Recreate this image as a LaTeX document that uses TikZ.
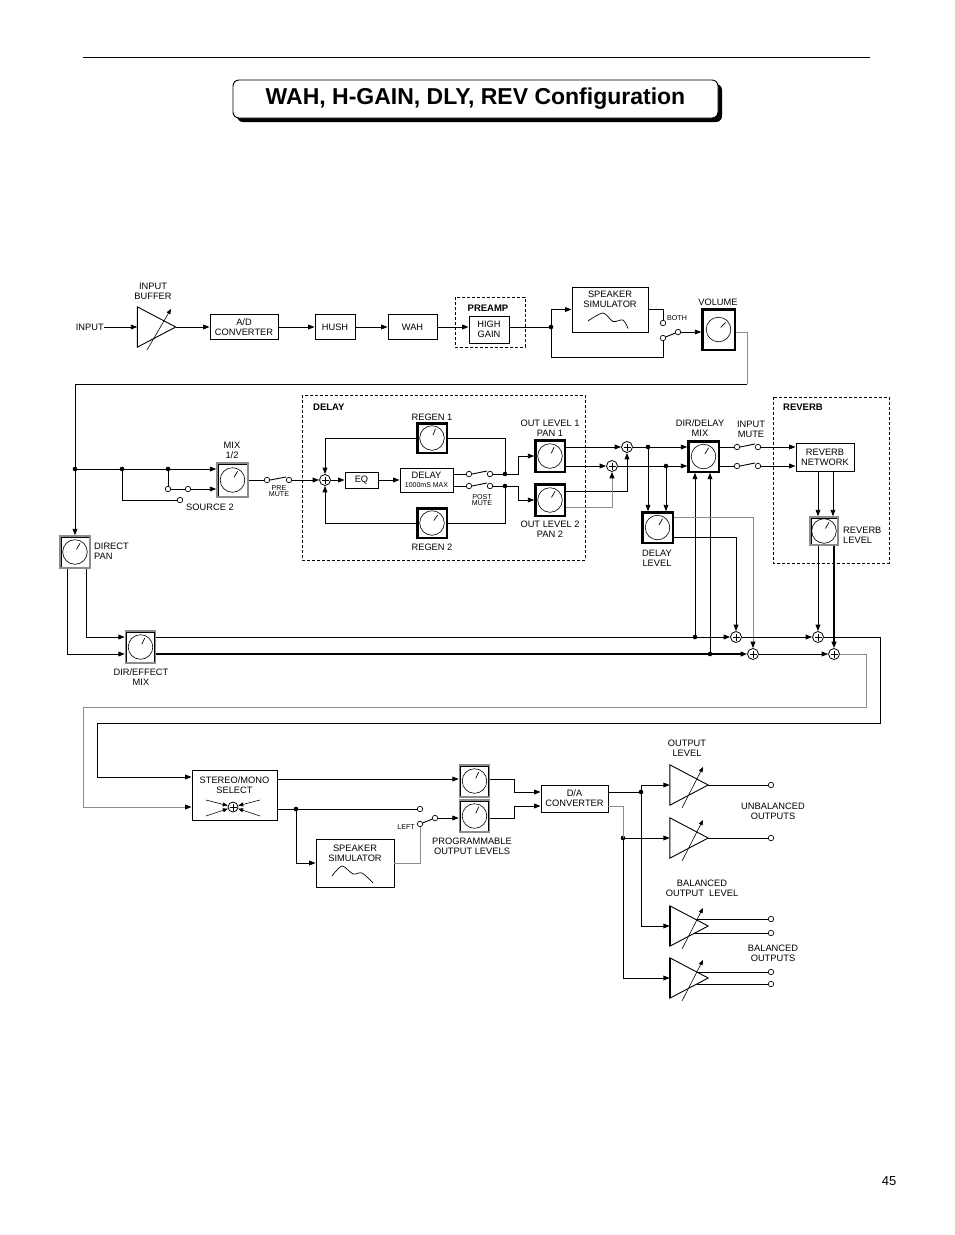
\documentclass[tikz,border=0pt]{standalone}
\usepackage{fontspec}
\setmainfont{Liberation Sans}
\usetikzlibrary{arrows.meta,shadows,calc}
\newcommand{\lblfont}{\fontsize{9.3}{10}\selectfont}
\newcommand{\smlfont}{\fontsize{7.1}{6.8}\selectfont}
\newcommand{\headfont}{\bfseries\fontsize{9.5}{10}\selectfont}
\tikzset{
 ln/.style={line width=0.9pt},
 arr/.style={line width=0.9pt,-{Triangle[length=6.5pt,width=4.8pt,color=black]}},
 varr/.style={line width=0.6pt,-{Triangle[length=5pt,width=4pt]}},
 thk/.style={line width=1.6pt},
 gr/.style={draw=black!45},
 box/.style={draw,line width=0.9pt,inner sep=0pt,align=center,font=\lblfont},
 lbl/.style={inner sep=0pt,align=center,font=\lblfont},
 sml/.style={inner sep=0pt,align=center,font=\smlfont},
 head/.style={inner sep=0pt,font=\headfont},
 dashbox/.style={draw,line width=0.8pt,dash pattern=on 3pt off 2pt},
 knob/.style={draw=black!45,line width=1.4pt,inner sep=0pt,minimum width=30pt,minimum height=32pt,
   path picture={
     \draw[black,line width=0.4pt] ([shift={(1pt,-1pt)}]path picture bounding box.north west) rectangle ([shift={(-1pt,1pt)}]path picture bounding box.south east);
     \draw[black,line width=0.6pt] (path picture bounding box.center) circle[radius=12.3pt];
     \draw[black,line width=0.7pt,shift={(path picture bounding box.center)}] (#1:3pt) -- (#1:10pt);}},
 knob/.default=60,
 knobb/.style={knob=#1,draw=black},
 knobb/.default=60,
 sumn/.style={circle,draw,line width=0.8pt,fill=white,minimum size=11pt,inner sep=0pt,
   path picture={\draw[line width=0.6pt] ([xshift=-3.5pt]path picture bounding box.center) -- ([xshift=3.5pt]path picture bounding box.center) ([yshift=-3.5pt]path picture bounding box.center) -- ([yshift=3.5pt]path picture bounding box.center);}},
 cont/.style={circle,draw,line width=0.7pt,fill=white,minimum size=5.5pt,inner sep=0pt},
 jd/.style={circle,fill,minimum size=4.6pt,inner sep=0pt},
 amp/.style={inner sep=0pt,minimum width=38pt,minimum height=40pt},
}
\begin{document}
\begin{tikzpicture}[x=1pt,y=-1pt]
\useasboundingbox (0,0) rectangle (954,1235);
\fill[white] (0,0) rectangle (954,1235);

% header
\draw[line width=0.9pt] (83,57) -- (870,57);
\node[draw,line width=0.9pt,rounded corners=6pt,fill=white,minimum width=485pt,minimum height=38pt,inner sep=0pt,
  font=\bfseries\fontsize{23}{23}\selectfont,
  drop shadow={shadow xshift=4pt,shadow yshift=-4pt,fill=black,opacity=1}] (title) at (475.5,99) {WAH, H-GAIN, DLY, REV Configuration};
\node[font=\fontsize{13}{13}\selectfont,inner sep=0pt] (pgno) at (889,1181) {45};

% ---------- row 1 ----------
\node[lbl,anchor=east] (inlbl) at (104,327) {INPUT};
\node[amp] (buf) at (156.5,327) {};
\node[lbl] (buflbl) at (153,291) {INPUT\\BUFFER};
\node[box,minimum width=68pt,minimum height=25pt] (ad) at (244,327) {A/D\\CONVERTER};
\node[box,minimum width=40pt,minimum height=25pt] (hush) at (335,327) {HUSH};
\node[box,minimum width=49pt,minimum height=25pt] (wah) at (412.5,327) {WAH};
\draw[dashbox] (455,297) rectangle (525,347);
\node[head] (prelbl) at (488,308) {PREAMP};
\node[box,minimum width=40pt,minimum height=27pt] (hg) at (489,329.5) {HIGH\\GAIN};
\node[jd] (dot1) at (551,327) {};
\node[box,minimum width=76pt,minimum height=45pt] (sp1) at (610,309.5) {};
\node[lbl] (sp1t) at (610,299) {SPEAKER\\SIMULATOR};
\draw[line width=0.7pt,shift={(sp1.center)}] plot[smooth] coordinates {(-22,11.5) (-7,3.5) (3,12) (13,10.5) (18,19)};
\node[cont] (c1) at (663,323) {};
\node[cont] (c2) at (663,338) {};
\node[cont] (p1) at (678,332) {};
\node[sml,anchor=west] (bothlbl) at (667,318) {BOTH};
\node[knobb=45,minimum width=33pt,minimum height=41pt] (vol) at (718.5,329.5) {};
\node[lbl] (vollbl) at (718,302) {VOLUME};

\draw[arr] (inlbl.east) -- (buf.west);
\draw[arr] (buf.east) -- (ad.west);
\draw[arr] (ad.east) -- (hush.west);
\draw[arr] (hush.east) -- (wah.west);
\draw[arr] (wah.east) -- (wah.east -| hg.west);
\draw[ln] (hg.east |- dot1) -- (dot1.center);
\draw[arr] (dot1.center) |- (sp1.west);
\draw[ln] (sp1.east) -| (c1.north);
\draw[ln] (dot1.center) |- ([yshift=-19pt]c2.center) -- (c2.south);
\draw[ln] (c2) -- (p1);
\draw[arr] (p1.east) -- (p1 -| vol.west);
\draw[ln,gr] (vol.east |- p1) -| (747,384);

% ---------- row 2 ----------
\node[knob] (dp) at (75,552) {};
\node[lbl,anchor=west,align=left] (dplbl) at (94,551) {DIRECT\\PAN};
\draw[arr] (747,384) -| (dp.north);
\node[jd] (jdot) at (75,469) {};
\node[jd] (dot2) at (122,469) {};
\node[jd] (dot3) at (168,469) {};
\node[knob,minimum width=31pt,minimum height=34pt] (mix) at (232.5,480) {};
\node[lbl] (mixlbl) at (232,450) {MIX\\1/2};
\node[cont] (s1) at (168,489) {};
\node[cont] (s2) at (188,489) {};
\node[cont] (s3) at (180,500) {};
\node[lbl,anchor=west] (srclbl) at (186,507) {SOURCE 2};
\node[cont] (m1) at (267,480) {};
\node[cont] (m2) at (289,480) {};
\node[sml] (premute) at (279,491) {PRE\\MUTE};
\node[sumn] (sum0) at (325,480) {};

\draw[arr] (jdot.center) -- (jdot -| mix.west);
\draw[ln] (dot3.center) -- (s1.north);
\draw[ln] (s1) -- (s2);
\draw[arr] (s2.east) -- (s2 -| mix.west);
\draw[ln] (dot2.center) |- (s3.west);
\draw[ln] (mix.east) -- (m1.west);
\draw[ln] (m1.east) -- ([yshift=3pt]m2.west);
\draw[arr] (m2.east) -- (sum0.west);

% ---------- delay ----------
\draw[dashbox] (302,395) rectangle (585,560);
\node[head,anchor=west] (dlylbl) at (313,407) {DELAY};
\node[knobb=70,minimum height=30pt] (regen1) at (432,438) {};
\node[lbl] (r1lbl) at (432,417) {REGEN 1};
\node[box,minimum width=33pt,minimum height=16pt] (eq) at (361.5,480) {EQ};
\node[box,minimum width=53pt,minimum height=24pt] (dly) at (426.5,480) {DELAY\\[-1.5pt]{\fontsize{7}{7}\selectfont 1000mS MAX}};
\node[cont] (d1a) at (469,474) {};
\node[cont] (d1b) at (490,474) {};
\node[cont] (d2a) at (469,486) {};
\node[cont] (d2b) at (490,486) {};
\node[jd] (dA) at (505,474) {};
\node[jd] (dB) at (505,486) {};
\node[sml] (postmute) at (482,500) {POST\\MUTE};
\node[knobb=55,minimum height=30pt] (regen2) at (432,523) {};
\node[lbl] (r2lbl) at (432,547) {REGEN 2};
\node[knobb=65] (out1) at (550,456) {};
\node[lbl] (o1lbl) at (550,428) {OUT LEVEL 1\\PAN 1};
\node[knobb] (out2) at (550,500) {};
\node[lbl] (o2lbl) at (550,529) {OUT LEVEL 2\\PAN 2};

\draw[arr] (sum0.east) -- (eq.west);
\draw[arr] (eq.east) -- (dly.west);
\draw[ln] ([yshift=6pt]dly.east) -- (d1a.west);
\draw[ln] (d1a.east) -- ([yshift=3pt]d1b.west);
\draw[ln] (d1b.east) -- (dA.center);
\draw[ln] ([yshift=-6pt]dly.east) -- (d2a.west);
\draw[ln] (d2a.east) -- ([yshift=3pt]d2b.west);
\draw[ln] (d2b.east) -- (dB.center);
\draw[ln] (dA.center) |- (regen1.east);
\draw[arr] (regen1.west) -| (sum0.north);
\draw[ln] (dB.center) |- (regen2.east);
\draw[arr] (regen2.west) -| (sum0.south);
\draw[arr] (dA.center) -- ++(13,0) |- (out1.west);
\draw[arr] (dB.center) -- ++(13,0) |- (out2.west);

% ---------- mix area ----------
\node[sumn] (sum1) at (627,447) {};
\node[sumn] (sum2) at (612,466) {};
\node[jd] (dC) at (648,447) {};
\node[jd] (dD) at (666,466) {};
\node[knobb,minimum width=31pt,minimum height=31pt] (ddmix) at (703.5,456.5) {};
\node[lbl] (ddlbl) at (700,428) {DIR/DELAY\\MIX};
\node[knobb,minimum width=31pt,minimum height=31pt] (dlev) at (657.5,527.5) {};
\node[lbl] (dlevlbl) at (657,558) {DELAY\\LEVEL};

\draw[arr] ([yshift=9pt]out1.east) -- (sum1.west);
\draw[arr] ([yshift=-10pt]out1.east) -- (sum2.west);
\draw[arr] ([yshift=9pt]out2.east) -| (sum1.south);
\draw[arr,gr] ([yshift=-7pt]out2.east) -| (sum2.south);
\draw[ln] (sum1.east) -- (dC.center);
\draw[arr] (dC.center) -- (dC -| ddmix.west);
\draw[ln] (sum2.east) -- (dD.center);
\draw[arr] (dD.center) -- (dD -| ddmix.west);
\draw[arr] (dC.center) -- (dC |- dlev.north);
\draw[arr] (dD.center) -- (dD |- dlev.north);

% ---------- reverb ----------
\node[cont] (i1) at (737,447) {};
\node[cont] (i2) at (758,447) {};
\node[cont] (i3) at (737,466) {};
\node[cont] (i4) at (758,466) {};
\node[lbl] (imlbl) at (751,429) {INPUT\\MUTE};
\draw[dashbox] (773,397) rectangle (889,563);
\node[head,anchor=west] (revlbl) at (783,407) {REVERB};
\node[box,minimum width=58pt,minimum height=28pt] (rnet) at (825,457) {REVERB\\NETWORK};
\node[knob,minimum width=28pt,minimum height=28pt] (rlev) at (824,531) {};
\node[lbl,anchor=west,align=left] (rlevlbl) at (843,535) {REVERB\\LEVEL};

\draw[ln] ([yshift=9.5pt]ddmix.east) -- (i1.west);
\draw[ln] (i1.east) -- ([yshift=3pt]i2.west);
\draw[arr] (i2.east) -- (i2 -| rnet.west);
\draw[ln] ([yshift=-9.5pt]ddmix.east) -- (i3.west);
\draw[ln] (i3.east) -- ([yshift=3pt]i4.west);
\draw[arr] (i4.east) -- (i4 -| rnet.west);
\draw[arr] ([xshift=-7pt]rnet.south) -- ([xshift=-7pt]rnet.south |- rlev.north);
\draw[arr] ([xshift=8pt]rnet.south) -- ([xshift=8pt]rnet.south |- rlev.north);

% ---------- bus ----------
\node[knob=65] (dem) at (140.5,647) {};
\node[lbl] (demlbl) at (141,677) {DIR/EFFECT\\MIX};
\node[sumn] (sumC) at (736,637) {};
\node[sumn] (sumD) at (753,654) {};
\node[sumn] (sumE) at (818,637) {};
\node[sumn] (sumF) at (834,654) {};
\node[jd] (dE) at (695,637) {};
\node[jd] (dF) at (710,654) {};

\draw[arr] ([xshift=11pt]dp.south) |- ([yshift=10pt]dem.west);
\draw[arr] ([xshift=-8pt]dp.south) |- ([yshift=-7pt]dem.west);
\draw[arr] ([yshift=10pt]dem.east) -- (sumC.west);
\draw[arr,thk] ([yshift=-7pt]dem.east) -- (sumD.west);
\draw[arr] (dE.center) -- (dE |- ddmix.south);
\draw[arr] (dF.center) -- (dF |- ddmix.south);
\draw[arr,gr] ([yshift=10.5pt]dlev.east) -| (sumD.north);
\draw[arr] ([yshift=-9.5pt]dlev.east) -| (sumC.north);
\draw[arr] ([xshift=-6pt]rlev.south) -- (sumE.north);
\draw[arr,thk] ([xshift=10pt]rlev.south) -- (sumF.north);
\draw[arr] (sumC.east) -- (sumE.west);
\draw[arr] (sumD.east) -- (sumF.west);

% ---------- bottom ----------
\node[box,minimum width=85pt,minimum height=50pt] (sms) at (234.5,795) {};
\node[lbl] (smstxt) at (234.5,785) {STEREO/MONO\\SELECT};
\node[sumn,minimum size=10pt] (smsum) at (233,807) {};
\draw[varr] ([shift={(-27pt,7pt)}]smsum.center) -- (smsum);
\draw[varr] ([shift={(-27pt,-9pt)}]smsum.center) -- (smsum);
\draw[varr] ([shift={(27pt,7pt)}]smsum.center) -- (smsum);
\draw[varr] ([shift={(27pt,-9pt)}]smsum.center) -- (smsum);

\draw[arr] (sumE.east) -- (880,637) |- (97,723) |- ([yshift=18pt]sms.west);
\draw[arr,gr] (sumF.east) -- (866,654) |- (83,707) |- ([yshift=-12pt]sms.west);

\node[knob=65] (pl1) at (474.5,781) {};
\node[knob=65] (pl2) at (474.5,816) {};
\node[lbl] (pllbl) at (472,846) {PROGRAMMABLE\\OUTPUT LEVELS};
\node[jd] (dG) at (296,809) {};
\node[cont] (t1) at (420,809) {};
\node[cont] (t2) at (420,824) {};
\node[cont] (t3) at (435,818) {};
\node[sml,anchor=east] (leftlbl) at (415,827) {LEFT};
\node[box,minimum width=78pt,minimum height=48pt] (sp2) at (355,863) {};
\node[lbl] (sp2t) at (355,853) {SPEAKER\\SIMULATOR};
\draw[line width=0.7pt,shift={(sp2.center)}] plot[smooth] coordinates {(-23,13) (-13,3) (-2,11) (7,10) (18,20)};

\draw[arr] ([yshift=16pt]sms.east) -- ([yshift=16pt]sms.east -| pl1.west);
\draw[ln] ([yshift=-14pt]sms.east) -- (t1.west);
\draw[arr] (dG.center) |- (sp2.west);
\draw[ln,gr] (sp2.east) -| (t2.south);
\draw[ln] (t2) -- (t3);
\draw[arr] (t3.east) -- (t3 -| pl2.west);

\node[box,minimum width=67pt,minimum height=27pt] (da) at (574.5,798.5) {D/A\\CONVERTER};
\draw[arr] ([yshift=2pt]pl1.east) -- ++(24,0) |- ([yshift=6.5pt]da.west);
\draw[arr] ([yshift=-2pt]pl2.east) -- ++(24,0) |- ([yshift=-7.5pt]da.west);

\node[jd] (dH) at (641,792) {};
\node[jd] (dI) at (623,838) {};
\node[amp] (a1) at (689,785) {};
\node[amp] (a2) at (689,838) {};
\node[amp] (a3) at (689,926) {};
\node[amp] (a4) at (689,978) {};
\node[cont] (o1) at (771,785) {};
\node[cont] (o2) at (771,838) {};
\node[cont] (o3a) at (771,919) {};
\node[cont] (o3b) at (771,933) {};
\node[cont] (o4a) at (771,972) {};
\node[cont] (o4b) at (771,984) {};
\node[lbl] (ollbl) at (687,748) {OUTPUT\\LEVEL};
\node[lbl] (ublbl) at (773,811) {UNBALANCED\\OUTPUTS};
\node[lbl] (bollbl) at (702,888) {BALANCED\\OUTPUT\ \ LEVEL};
\node[lbl] (bolbl) at (773,953) {BALANCED\\OUTPUTS};

\draw[ln] ([yshift=6.5pt]da.east) -- (dH.center);
\draw[arr] (dH.center) |- (a1.west);
\draw[arr] (dH.center) |- (a3.west);
\draw[ln,gr] ([yshift=-7.5pt]da.east) -| (dI.center);
\draw[arr] (dI.center) -- (a2.west);
\draw[arr] (dI.center) |- (a4.west);
\draw[ln] (a1.east) -- (o1.west);
\draw[ln] (a2.east) -- (o2.west);
\draw[ln] ([shift={(-13.3pt,7pt)}]a3.east) -- (o3a.west);
\draw[ln] ([shift={(-13.3pt,-7pt)}]a3.east) -- (o3b.west);
\draw[ln] ([shift={(-11.4pt,6pt)}]a4.east) -- (o4a.west);
\draw[ln] ([shift={(-11.4pt,-6pt)}]a4.east) -- (o4b.west);

% amplifier triangles
\foreach \a in {buf,a1,a2,a3,a4} {
  \draw[ln,line join=miter] (\a.north west) -- (\a.east) -- (\a.south west) -- cycle;
}
\foreach \a in {buf,a3,a4} {
  \draw[thk] (\a.north west) -- (\a.south west);
}
\foreach \a in {a1,a2,a3,a4} {
  \draw[varr] ([shift={(-7pt,-23pt)}]\a.center) -- ([shift={(14pt,18pt)}]\a.center);
}
\draw[varr] ([shift={(-9.5pt,-23pt)}]buf.center) -- ([shift={(14.5pt,18pt)}]buf.center);
\end{tikzpicture}
\end{document}
